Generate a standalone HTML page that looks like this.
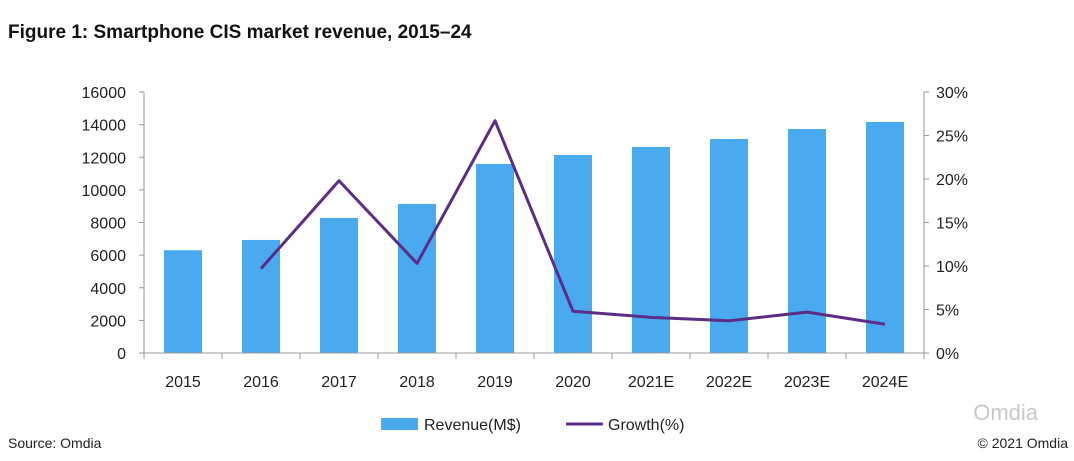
<!DOCTYPE html>
<html><head><meta charset="utf-8"><style>
body{margin:0;background:#fff;font-family:"Liberation Sans",sans-serif;}
svg text{font-family:"Liberation Sans",sans-serif;}
</style></head><body>
<svg width="1074" height="456" viewBox="0 0 1074 456">
<text x="8" y="38" font-size="19" font-weight="bold" fill="#111">Figure 1: Smartphone CIS market revenue, 2015–24</text>
<g id="grid"></g>
<g id="bars"></g>
<g id="line"></g>
<g id="axes"></g>
<g>
<rect x="381" y="418" width="37" height="12" fill="#4aaaf0"/>
<text x="424" y="430" font-size="16" fill="#222">Revenue(M$)</text>
<line x1="566" y1="424" x2="603" y2="424" stroke="#5b2d86" stroke-width="3"/>
<text x="608" y="430" font-size="16" fill="#222">Growth(%)</text>
</g>
<text x="8" y="448" font-size="14" fill="#222">Source: Omdia</text>
<text x="1068" y="448" font-size="14" fill="#222" text-anchor="end">© 2021 Omdia</text>
<text x="1038" y="420" font-size="22" fill="#c8c8c8" text-anchor="end">Omdia</text>
</svg>
<script>
const categories=["2015","2016","2017","2018","2019","2020","2021E","2022E","2023E","2024E"];
const revenue=[6300,6930,8280,9140,11590,12140,12630,13120,13730,14160];
const growth=[null,9.7,19.8,10.3,26.7,4.8,4.1,3.7,4.7,3.3];
const leftTicks=[0,2000,4000,6000,8000,10000,12000,14000,16000];
const rightTicks=[0,5,10,15,20,25,30];
const NS="http://www.w3.org/2000/svg";
const X0=144,X1=924,Y0=353,Y1=92;
const bw=(X1-X0)/categories.length;
const xc=i=>X0+bw*(i+0.5);
const yL=v=>Y0-(v/16000)*(Y0-Y1);
const yR=v=>Y0-(v/30)*(Y0-Y1);
function mk(t,a,p){const e=document.createElementNS(NS,t);for(const k in a)e.setAttribute(k,a[k]);document.getElementById(p).appendChild(e);return e;}
revenue.forEach((v,i)=>{
 const r=mk("rect",{x:xc(i)-19,y:yL(v),width:38,height:Y0-yL(v),fill:"#4aaaf0"},"bars");
 
 
});
let d="";growth.forEach((v,i)=>{if(v==null)return;d+=(d?"L":"M")+xc(i)+" "+yR(v)+" ";});
const pl=mk("path",{d:d,fill:"none",stroke:"#5b2d86","stroke-width":3,"stroke-linejoin":"round"},"line");


const ax=mk("line",{x1:X0,y1:Y0,x2:X1,y2:Y0,stroke:"#999","stroke-width":1},"axes");


for(let i=0;i<=categories.length;i++){const t=mk("line",{x1:X0+bw*i,y1:Y0,x2:X0+bw*i,y2:Y0+6,stroke:"#999"},"axes");}
categories.forEach((c,i)=>{const t=mk("text",{x:xc(i),y:387,"font-size":16,fill:"#222","text-anchor":"middle"},"axes");t.textContent=c;});
const la=mk("line",{x1:X0,y1:Y1,x2:X0,y2:Y0,stroke:"#999"},"axes");
const ra=mk("line",{x1:X1,y1:Y1,x2:X1,y2:Y0,stroke:"#999"},"axes");
leftTicks.forEach(v=>{const y=yL(v);mk("line",{x1:X0-5,y1:y,x2:X0,y2:y,stroke:"#999"},"axes");const t=mk("text",{x:X0-18,y:y+6,"font-size":16,fill:"#222","text-anchor":"end"},"axes");t.textContent=v;});
rightTicks.forEach(v=>{const y=yR(v);mk("line",{x1:X1,y1:y,x2:X1+5,y2:y,stroke:"#999"},"axes");const t=mk("text",{x:X1+12,y:y+6,"font-size":16,fill:"#222"},"axes");t.textContent=v+"%";});
</script>
</body></html>
